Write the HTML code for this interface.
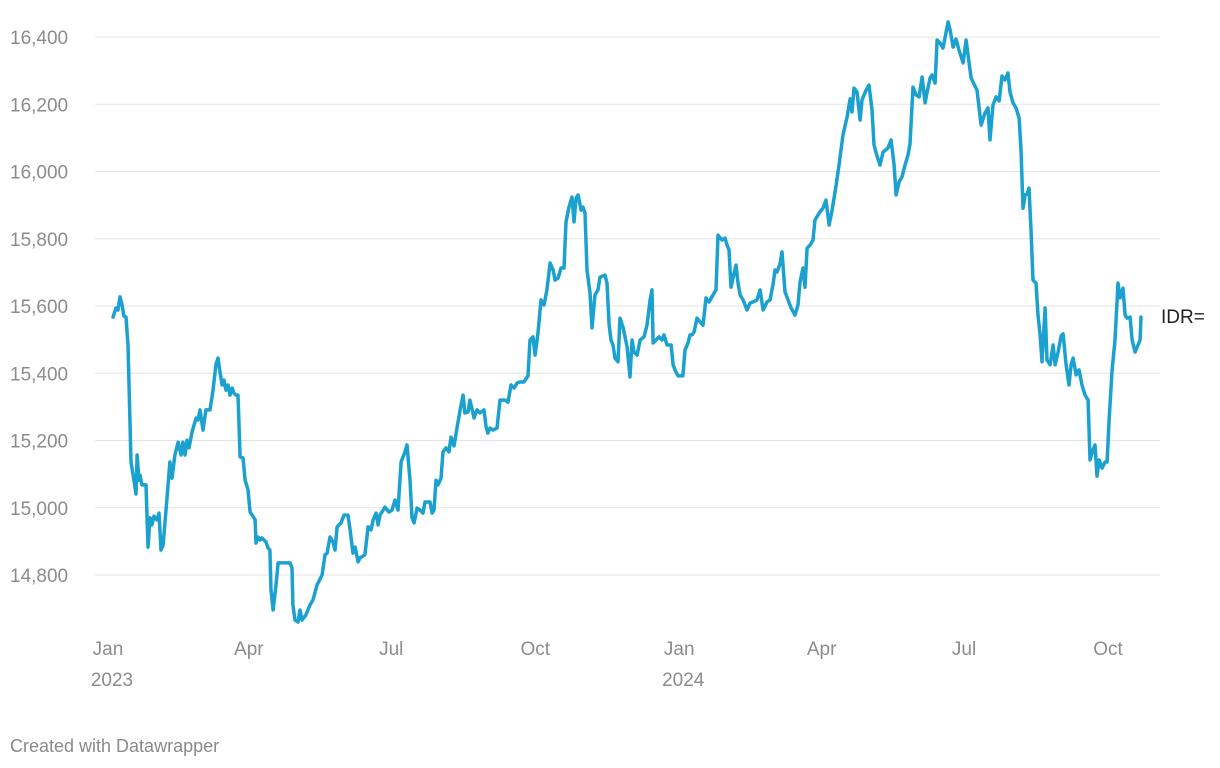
<!DOCTYPE html>
<html><head><meta charset="utf-8"><style>
html,body{margin:0;padding:0;background:#fff;width:1220px;height:768px;overflow:hidden;font-family:"Liberation Sans",sans-serif}
</style></head><body>
<svg width="1220" height="768" xmlns="http://www.w3.org/2000/svg">
<g id="grid"></g>
<g id="ylab"></g>
<g id="xlab"></g>
<path id="line" fill="none" stroke="#1ba1d0" stroke-width="3.5" stroke-linejoin="round" stroke-linecap="round"/>
<text x="1161" y="323" font-size="19" fill="#222">IDR=</text>
<text x="10" y="752" font-size="18" fill="#8a8a8a">Created with Datawrapper</text>
</svg>
<script>
const yTicks=[14800,15000,15200,15400,15600,15800,16000,16200,16400];
const xTickDays=[0,90,181,273,365,456,547,639];
const xTickLabels=["Jan","Apr","Jul","Oct","Jan","Apr","Jul","Oct"];
const xTickYears=["2023","","","","2024","","",""];
const days=[1.9,3.8,5.1,6.4,7.7,8.9,10.2,11.5,13.4,15.3,16.6,17.3,18.5,19.2,20.4,23.0,24.3,25.6,26.8,28.1,30.0,31.3,32.6,33.9,35.8,38.3,39.6,41.5,43.5,45.4,46.6,47.9,49.2,50.5,52.4,55.0,56.2,57.5,59.4,61.3,63.9,65.8,67.7,69.0,70.3,71.6,72.8,74.1,75.4,76.7,78.0,79.2,80.5,81.8,83.1,85.0,86.3,88.2,89.5,91.4,92.7,93.3,94.6,95.9,97.1,98.4,99.7,101.0,102.2,102.9,104.2,106.1,107.4,111.8,115.0,116.3,116.9,118.2,120.1,121.4,122.7,125.2,127.8,129.7,132.3,135.5,137.4,138.7,140.6,142.5,143.8,145.1,147.6,149.5,152.1,153.4,155.3,156.6,158.5,159.8,162.9,164.9,166.8,168.1,170.0,171.3,172.5,175.7,178.3,180.2,182.1,184.0,186.0,188.5,189.8,191.7,193.0,194.3,196.2,198.1,200.0,201.3,204.5,205.8,207.0,208.3,209.6,211.5,212.8,214.7,216.6,217.9,219.8,221.7,223.7,225.6,226.8,228.8,230.0,231.3,232.6,234.5,236.4,239.0,240.3,241.5,242.8,244.7,247.3,249.2,252.4,254.3,256.2,258.2,260.1,262.0,264.5,267.1,268.4,270.3,271.6,273.5,275.4,277.3,279.2,281.2,283.1,284.4,286.3,288.2,290.1,291.4,293.3,295.2,296.5,297.8,299.1,301.0,302.2,303.5,304.8,306.7,308.0,309.9,311.8,313.1,316.3,317.6,318.9,320.1,321.4,322.7,324.6,325.9,327.8,330.4,332.3,333.6,334.8,336.8,338.7,341.2,343.1,345.1,346.3,347.0,348.9,350.8,352.7,354.0,355.9,358.5,359.8,361.0,363.0,366.1,367.4,369.3,370.6,371.9,373.2,375.1,378.9,380.8,382.8,385.3,387.2,388.5,391.1,393.0,394.3,395.5,396.8,398.1,400.0,401.3,402.6,404.5,405.8,407.0,409.0,410.9,413.4,415.4,417.3,419.8,421.7,423.7,424.9,426.2,428.1,429.4,431.3,435.2,437.7,439.6,440.9,442.8,444.1,445.4,447.3,449.2,450.5,453.7,455.6,457.5,459.5,461.4,463.9,465.8,468.4,471.0,472.9,474.1,475.4,477.3,479.3,480.5,483.1,485.0,486.9,488.2,490.1,492.0,494.0,497.1,499.1,501.0,502.3,504.2,506.1,508.0,509.9,511.2,513.1,515.0,517.0,518.9,520.8,522.1,524.0,525.3,527.2,528.5,530.4,532.3,535.5,536.8,538.7,540.6,542.5,545.1,547.0,548.3,550.2,552.1,554.0,556.6,559.1,561.0,562.3,564.2,566.2,568.1,570.0,571.9,573.8,575.1,577.0,578.9,580.9,582.1,583.4,584.7,586.0,587.2,588.5,589.8,591.7,593.0,594.3,595.5,597.5,598.7,600.7,602.6,603.9,605.8,607.7,609.0,610.9,612.8,614.1,615.4,617.3,619.2,621.1,623.0,625.0,626.2,628.1,629.4,630.7,632.0,633.9,635.8,637.1,638.4,640.3,642.2,644.1,645.4,647.3,648.6,649.9,651.8,653.1,655.0,656.9,658.2,658.8];
const values=[15567,15594,15588,15627,15603,15570,15567,15484,15136,15082,15041,15157,15082,15097,15068,15068,14883,14970,14949,14975,14964,14984,14874,14889,14993,15136,15088,15157,15195,15157,15195,15157,15201,15178,15225,15267,15261,15291,15231,15291,15291,15350,15427,15445,15404,15365,15380,15350,15365,15335,15356,15341,15335,15335,15151,15148,15082,15053,14987,14975,14964,14895,14913,14904,14910,14904,14898,14880,14874,14755,14696,14770,14836,14836,14836,14821,14711,14666,14660,14696,14666,14681,14711,14726,14770,14800,14860,14865,14913,14898,14874,14943,14955,14978,14978,14934,14865,14883,14839,14851,14860,14943,14934,14964,14984,14949,14978,15002,14987,14993,15023,14993,15136,15166,15187,15082,14970,14955,14999,14993,14984,15017,15017,14984,14993,15082,15068,15088,15166,15178,15166,15210,15184,15237,15291,15335,15282,15285,15320,15294,15267,15291,15282,15291,15240,15222,15237,15231,15237,15320,15320,15314,15365,15356,15371,15374,15374,15392,15499,15508,15454,15520,15618,15603,15648,15728,15707,15677,15683,15713,15713,15850,15894,15924,15850,15921,15930,15885,15894,15877,15707,15639,15535,15633,15648,15686,15692,15668,15544,15499,15484,15445,15434,15564,15537,15478,15389,15499,15463,15454,15499,15508,15543,15618,15648,15490,15499,15508,15499,15514,15484,15484,15425,15410,15392,15392,15469,15490,15514,15514,15523,15564,15543,15624,15612,15633,15648,15811,15796,15802,15781,15767,15656,15683,15722,15668,15633,15618,15603,15588,15609,15612,15618,15648,15588,15612,15618,15665,15707,15701,15725,15761,15642,15594,15573,15603,15671,15713,15656,15772,15781,15796,15856,15880,15891,15915,15841,15885,15957,16019,16109,16162,16216,16177,16248,16236,16153,16213,16242,16257,16183,16079,16046,16019,16058,16070,16094,16019,15930,15969,15984,16019,16049,16082,16251,16228,16222,16281,16204,16236,16278,16287,16263,16391,16382,16367,16445,16421,16370,16394,16361,16323,16391,16346,16278,16260,16242,16138,16174,16189,16094,16198,16222,16210,16284,16272,16293,16236,16204,16189,16159,16064,15891,15930,15933,15951,15826,15677,15668,15573,15514,15434,15594,15439,15425,15484,15425,15463,15511,15517,15425,15365,15425,15445,15395,15410,15365,15335,15320,15142,15172,15187,15094,15142,15118,15136,15136,15261,15410,15499,15668,15624,15653,15573,15564,15567,15499,15463,15484,15499,15567];
const NS="http://www.w3.org/2000/svg";
function xs(d){return 110+d*1.565;}
function ys(v){return 37+(16400-v)*0.33625;}
const grid=document.getElementById('grid'),ylab=document.getElementById('ylab'),xlab=document.getElementById('xlab');
yTicks.forEach(v=>{
  const l=document.createElementNS(NS,'line');
  
  
  l.setAttribute('x1',95);l.setAttribute('x2',1160);l.setAttribute('y1',ys(v));l.setAttribute('y2',ys(v));
  l.setAttribute('stroke','#e3e3e3');l.setAttribute('stroke-width','1');
  grid.appendChild(l);
  const t=document.createElementNS(NS,'text');
  
  
  t.setAttribute('x',10);t.setAttribute('y',ys(v)+7);t.setAttribute('font-size','19');t.setAttribute('fill','#8c8c8c');
  t.textContent=v.toLocaleString('en-US');
  ylab.appendChild(t);
});
xTickDays.forEach((d,i)=>{
  const t=document.createElementNS(NS,'text');
  
  
  t.setAttribute('x',xs(d)-2);t.setAttribute('y',655);t.setAttribute('font-size','19');t.setAttribute('fill','#8c8c8c');t.setAttribute('text-anchor','middle');
  t.textContent=xTickLabels[i];
  xlab.appendChild(t);
  if(xTickYears[i]){
    const y=document.createElementNS(NS,'text');
    
    
    y.setAttribute('x',xs(d)+2);y.setAttribute('y',686);y.setAttribute('font-size','19');y.setAttribute('fill','#8c8c8c');y.setAttribute('text-anchor','middle');
    y.textContent=xTickYears[i];
    xlab.appendChild(y);
  }
});
document.getElementById('line').setAttribute('d',days.map((d,i)=>(i?'L':'M')+xs(d).toFixed(1)+','+ys(values[i]).toFixed(1)).join(''));
</script>
</body></html>
